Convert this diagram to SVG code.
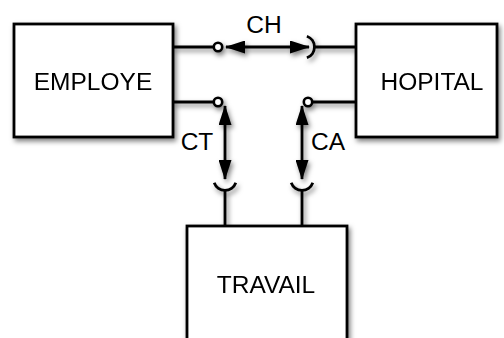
<svg xmlns="http://www.w3.org/2000/svg" width="504" height="338" viewBox="0 0 504 338">
  <defs>
    <filter id="shadow" x="-20%" y="-20%" width="140%" height="140%">
      <feDropShadow dx="2" dy="3" stdDeviation="2.5" flood-color="#000" flood-opacity="0.5"/>
    </filter>
    <marker id="head" viewBox="0 0 20 13" refX="19" refY="6.5" markerWidth="20" markerHeight="13" markerUnits="userSpaceOnUse" orient="auto-start-reverse">
      <path d="M0,0 L20,6.5 L0,13 Z" fill="#000"/>
    </marker>
  </defs>
  <style>
    .box { fill: #fff; stroke: #000; stroke-width: 2.8; }
    .wire { fill: none; stroke: #000; stroke-width: 2.8; }
    .socket { fill: #fff; stroke: #000; stroke-width: 2.6; }
    .lbl { font-family: "Liberation Sans", Arial, sans-serif; font-size: 24.5px; fill: #000; text-anchor: middle; }
  </style>

  <g filter="url(#shadow)">
    <g id="connectors">
      <!-- CH: EMPLOYE to HOPITAL -->
      <line class="wire" x1="173" y1="47" x2="214" y2="47"/>
      <line class="wire" x1="226" y1="47" x2="309" y2="47" marker-start="url(#head)" marker-end="url(#head)"/>
      <path class="wire" d="M306.9,36.2 A11.5,11.5 0 0 1 306.9,57.8"/>
      <line class="wire" x1="314.5" y1="47" x2="356" y2="47"/>
      <circle class="socket" cx="218" cy="47" r="4.2"/>

      <!-- CT: EMPLOYE to TRAVAIL -->
      <line class="wire" x1="173" y1="102" x2="214" y2="102"/>
      <line class="wire" x1="225" y1="106" x2="225" y2="179" marker-start="url(#head)" marker-end="url(#head)"/>
      <path class="wire" d="M214.2,182.8 A11.5,11.5 0 0 0 235.8,182.8"/>
      <line class="wire" x1="225" y1="190.5" x2="225" y2="226"/>
      <circle class="socket" cx="218" cy="102" r="4.2"/>

      <!-- CA: HOPITAL to TRAVAIL -->
      <line class="wire" x1="312" y1="102" x2="356" y2="102"/>
      <line class="wire" x1="302" y1="106" x2="302" y2="179" marker-start="url(#head)" marker-end="url(#head)"/>
      <path class="wire" d="M291.2,182.8 A11.5,11.5 0 0 0 312.8,182.8"/>
      <line class="wire" x1="302" y1="190.5" x2="302" y2="226"/>
      <circle class="socket" cx="308" cy="102" r="4.2"/>
    </g>

    <g id="employe">
      <rect class="box" x="14" y="24" width="159" height="113"/>
      <text class="lbl" x="93" y="90">EMPLOYE</text>
    </g>

    <g id="hopital">
      <rect class="box" x="356" y="24" width="141" height="113"/>
      <text class="lbl" x="432" y="90">HOPITAL</text>
    </g>

    <g id="travail">
      <rect class="box" x="187" y="226" width="160" height="130"/>
      <text class="lbl" x="266" y="293">TRAVAIL</text>
    </g>
  </g>

  <g id="labels">
    <text class="lbl" x="264" y="33">CH</text>
    <text class="lbl" x="197" y="150">CT</text>
    <text class="lbl" x="328" y="150">CA</text>
  </g>
</svg>
